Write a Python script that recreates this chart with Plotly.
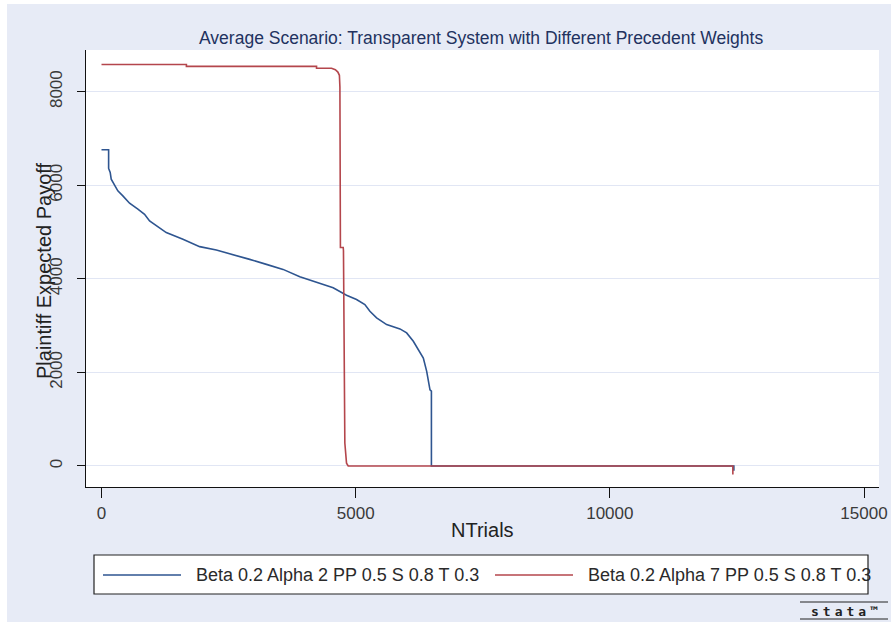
import plotly.graph_objects as go

# ---- data -------------------------------------------------------------
series_names = [
    "Beta 0.2 Alpha 2 PP 0.5 S 0.8 T 0.3",
    "Beta 0.2 Alpha 7 PP 0.5 S 0.8 T 0.3",
]

alpha2_trials = [0, 140, 140, 171, 191, 256, 321, 420, 552, 716, 847, 946, 1143,
                 1274, 1602, 1931, 2259, 2587, 2916, 3244, 3572, 3901, 4229, 4557,
                 4820, 5017, 5181, 5280, 5412, 5609, 5871, 6003, 6134, 6233, 6331,
                 6397, 6430, 6462, 6490, 6490, 12440, 12440]
alpha2_payoff = [6760, 6760, 6360, 6274, 6131, 5988, 5880, 5773, 5616, 5488, 5380,
                 5237, 5095, 4988, 4845, 4688, 4615, 4523, 4416, 4309, 4202, 4045,
                 3930, 3809, 3650, 3558, 3451, 3307, 3165, 3022, 2930, 2845, 2665,
                 2487, 2308, 2021, 1807, 1629, 1600, 0, 0, -100]

alpha7_trials = [0, 1670, 1670, 4230, 4230, 4525, 4600, 4650, 4680, 4690, 4700,
                 4700, 4755, 4760, 4787, 4820, 4853, 12420, 12420]
alpha7_payoff = [8580, 8580, 8540, 8540, 8500, 8500, 8470, 8420, 8350, 8100, 4670,
                 4670, 4670, 4600, 490, 60, 0, 0, -180]

x_ticks = [0, 5000, 10000, 15000]
y_ticks = [0, 2000, 4000, 6000, 8000]

# ---- geometry helpers -------------------------------------------------
W, H = 891, 622
L, R, T, B = 86, 12, 50, 135
PW = W - L - R
PH = H - T - B


def px(x):
    return (x - L) / PW


def py(y):
    return (H - B - y) / PH


BG = "#E7EBF6"
NAVY = "#2E5590"
MAROON = "#B4464C"
FONT = "Liberation Sans, Arial, sans-serif"

fig = go.Figure()
fig.add_trace(go.Scatter(x=alpha2_trials, y=alpha2_payoff, mode="lines",
                         name=series_names[0], showlegend=False,
                         line=dict(color=NAVY, width=1.6)))
fig.add_trace(go.Scatter(x=alpha7_trials, y=alpha7_payoff, mode="lines",
                         name=series_names[1], showlegend=False,
                         line=dict(color=MAROON, width=1.6)))

fig.update_xaxes(
    range=[-305, 15295], tickvals=x_ticks, ticktext=[str(v) for v in x_ticks],
    showgrid=False, zeroline=False, showline=True, linecolor="#111", linewidth=1.3,
    ticks="outside", ticklen=10, tickwidth=1.3, tickcolor="#111",
    tickfont=dict(family=FONT, size=17, color="#3a3a3a"),
)
fig.update_yaxes(
    range=[-449, 8891], tickvals=y_ticks, ticktext=[str(v) for v in y_ticks],
    tickangle=-90, showgrid=True, gridcolor="#E1E6F4", gridwidth=1,
    zeroline=False, showline=True, linecolor="#111", linewidth=1.3,
    ticks="outside", ticklen=8, tickwidth=1.3, tickcolor="#111",
    ticklabelstandoff=8,
    tickfont=dict(family=FONT, size=17, color="#3a3a3a"),
)

annotations = [
    dict(text="Average Scenario: Transparent System with Different Precedent Weights",
         x=px(481), y=py(38), xref="paper", yref="paper", showarrow=False,
         xanchor="center", yanchor="middle",
         font=dict(family=FONT, size=17.5, color="#22325f")),
    dict(text="NTrials", x=px(482), y=py(530), xref="paper", yref="paper",
         showarrow=False, xanchor="center", yanchor="middle",
         font=dict(family=FONT, size=20, color="#222")),
    dict(text="Plaintiff Expected Payoff", x=px(44), y=py(271), xref="paper",
         yref="paper", showarrow=False, textangle=-90, xanchor="center",
         yanchor="middle", font=dict(family=FONT, size=20, color="#222")),
    # legend labels
    dict(text=series_names[0], x=px(194), y=py(575), xref="paper", yref="paper",
         showarrow=False, xanchor="left", yanchor="middle",
         font=dict(family=FONT, size=18, color="#2a2a2a")),
    dict(text=series_names[1], x=px(586), y=py(575), xref="paper", yref="paper",
         showarrow=False, xanchor="left", yanchor="middle",
         font=dict(family=FONT, size=18, color="#2a2a2a")),
    # Stata mark
    dict(text='<b><span style="letter-spacing:4px">stata</span>™</b>', x=px(844),
         y=py(611), xref="paper", yref="paper", showarrow=False,
         xanchor="center", yanchor="middle",
         font=dict(family="DejaVu Sans Mono, monospace", size=13, color="#222")),
]

shapes = [
    # white strip along the left and top page edges
    dict(type="rect", xref="paper", yref="paper", x0=px(0), x1=px(7), y0=py(622),
         y1=py(0), fillcolor="white", line=dict(width=0), layer="below"),
    dict(type="rect", xref="paper", yref="paper", x0=px(0), x1=px(891), y0=py(4),
         y1=py(0), fillcolor="white", line=dict(width=0), layer="below"),
    # legend box
    dict(type="rect", xref="paper", yref="paper", x0=px(94), x1=px(868),
         y0=py(594), y1=py(555), fillcolor="white",
         line=dict(color="#222", width=1.2)),
    dict(type="line", xref="paper", yref="paper", x0=px(103), x1=px(181),
         y0=py(575), y1=py(575), line=dict(color=NAVY, width=1.3)),
    dict(type="line", xref="paper", yref="paper", x0=px(495), x1=px(573),
         y0=py(575), y1=py(575), line=dict(color=MAROON, width=1.3)),
    # Stata mark rules
    dict(type="line", xref="paper", yref="paper", x0=px(800), x1=px(888),
         y0=py(602), y1=py(602), line=dict(color="#222", width=1)),
    dict(type="line", xref="paper", yref="paper", x0=px(800), x1=px(888),
         y0=py(619), y1=py(619), line=dict(color="#222", width=1)),
]

fig.update_layout(
    width=W, height=H,
    margin=dict(l=L, r=R, t=T, b=B, autoexpand=False),
    paper_bgcolor=BG, plot_bgcolor="white",
    showlegend=False,
    annotations=annotations, shapes=shapes,
    font=dict(family=FONT),
)

fig.write_html("out.html")
